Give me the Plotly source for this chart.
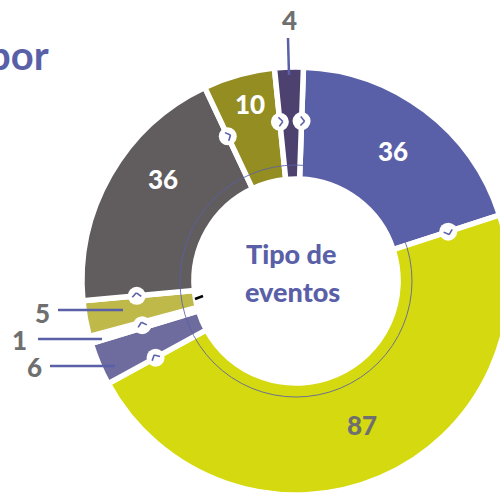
import math
import plotly.graph_objects as go

categories = ["A", "B", "C", "D", "E", "F", "G", "H"]
values = [36, 87, 6, 1, 5, 36, 10, 4]
colors = ["#5a60a8", "#d5d90f", "#6e6b9e", "#ffffff", "#bfb94a", "#615c5e", "#938d22", "#4d4170"]

W, H = 520, 500
CX, CY, R = 296, 281, 214
ROT = 2.0
BLUE = "#5a60a8"
GREY = "#6f6f6f"
FONT = "Lato"


def px(x):
    return x / W


def py(y):
    return 1 - y / H


fig = go.Figure(go.Pie(
    labels=categories, values=values, sort=False, direction="clockwise", rotation=ROT,
    hole=0.477, textinfo="none", showlegend=False,
    marker=dict(colors=colors, line=dict(color="#ffffff", width=5.5)),
    domain=dict(x=[px(CX - R), px(CX + R)], y=[py(CY + R), py(CY - R)]),
))

shapes = []


def line(x0, y0, x1, y1, color=BLUE, width=2.5):
    shapes.append(dict(type="line", xref="paper", yref="paper", x0=px(x0), y0=py(y0),
                       x1=px(x1), y1=py(y1), line=dict(color=color, width=width)))


# Thin inner ring
shapes.append(dict(type="circle", xref="paper", yref="paper",
                   x0=px(CX - 116), x1=px(CX + 116), y0=py(CY + 116), y1=py(CY - 116),
                   line=dict(color=BLUE, width=1), opacity=0.85))
# Small black tick
line(195, 299, 203, 296, color="#000000", width=2.5)
# Leader lines
line(58, 310, 123, 310)
line(38, 339, 102, 339)
line(50, 366, 115, 366)
line(288, 38, 289, 75)

# Knobs with chevrons at slice boundaries, positions derived from the values
total = sum(values)
cum = 0
angles = [ROT]
for v in values[:-1]:
    cum += v
    angles.append(ROT + cum / total * 360)
angles = [a for i, a in enumerate(angles) if i != 3]  # one knob for the thin white slice
angles[3] = angles[3] - 1  # centred on the thin slice
K = 160
for a in angles:
    t = math.radians(a)
    x = CX + K * math.sin(t)
    y = CY - K * math.cos(t)
    shapes.append(dict(type="circle", xref="paper", yref="paper", fillcolor="#ffffff",
                       line=dict(width=0), x0=px(x - 9), x1=px(x + 9), y0=py(y + 9), y1=py(y - 9)))
    tx, ty = math.cos(t), math.sin(t)   # clockwise tangent in screen coordinates
    nx, ny = -ty, tx
    ax, ay = x + 3 * tx, y + 3 * ty
    p0 = (ax - 4 * tx + 4.5 * nx, ay - 4 * ty + 4.5 * ny)
    p1 = (ax - 4 * tx - 4.5 * nx, ay - 4 * ty - 4.5 * ny)
    line(p0[0], p0[1], ax, ay, width=1.6)
    line(ax, ay, p1[0], p1[1], width=1.6)

fig.update_layout(shapes=shapes)


def label(x, y, text, color=GREY, size=26, anchor="center"):
    fig.add_annotation(xref="paper", yref="paper", x=px(x), y=py(y), text=text, showarrow=False,
                       xanchor=anchor, yanchor="middle",
                       font=dict(family=FONT, size=size, color=color, weight=900))


label(393, 151, str(values[0]), "#ffffff")
label(362, 425, str(values[1]))
label(34, 367, str(values[2]))
label(19, 340, str(values[3]))
label(42, 313, str(values[4]))
label(163, 179, str(values[5]), "#ffffff")
label(250, 104, str(values[6]), "#ffffff")
label(289, 20, str(values[7]))
label(291, 253, "Tipo de", BLUE, 27)
label(292, 291, "eventos", BLUE, 27)
fig.add_annotation(xref="paper", yref="paper", x=px(51), y=py(55), text="por", showarrow=False,
                   xanchor="right", yanchor="middle",
                   font=dict(family=FONT, size=40, color=BLUE, weight=700))

fig.update_layout(width=W, height=H, autosize=False, margin=dict(l=0, r=0, t=0, b=0),
                  paper_bgcolor="#ffffff", plot_bgcolor="#ffffff")
fig.write_html("out.html", config=dict(displayModeBar=False),
               post_script="document.body.style.margin='0';document.documentElement.style.overflow='hidden';document.body.style.overflow='hidden';")
